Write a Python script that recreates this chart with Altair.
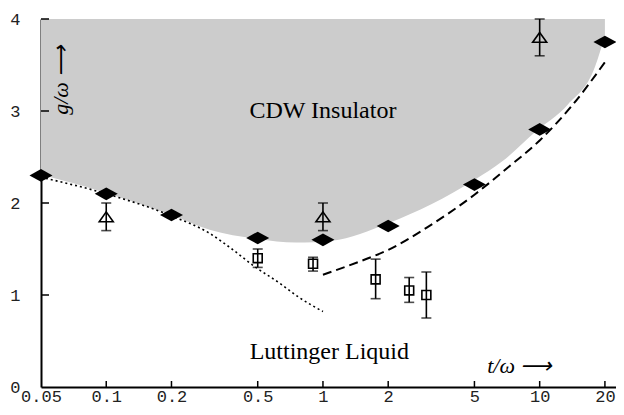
import altair as alt
import pandas as pd

# ---- data ----
x_ticks = [0.05, 0.1, 0.2, 0.5, 1, 2, 5, 10, 20]
y_ticks = [0, 1, 2, 3, 4]

# CDW phase boundary (grey region lower edge)
bound_t = [0.05, 0.1, 0.2, 0.3, 0.5, 0.75, 1.1, 2, 5, 6.7, 9.5, 13.5, 18, 20]
bound_g = [2.31, 2.11, 1.87, 1.71, 1.61, 1.57, 1.59, 1.78, 2.25, 2.45, 2.77, 3.07, 3.48, 3.82]

# diamonds
dia_t = [0.05, 0.1, 0.2, 0.5, 1, 2, 5, 10, 20]
dia_g = [2.30, 2.10, 1.87, 1.62, 1.60, 1.75, 2.20, 2.80, 3.75]

# triangles with error bars
tri_t = [0.1, 1, 10]
tri_g = [1.85, 1.85, 3.80]
tri_lo = [1.70, 1.70, 3.60]
tri_hi = [2.00, 2.00, 4.00]

# squares with error bars
sq_t = [0.5, 0.9, 1.75, 2.5, 3.0]
sq_g = [1.40, 1.34, 1.17, 1.05, 1.00]
sq_lo = [1.30, 1.26, 0.96, 0.92, 0.75]
sq_hi = [1.50, 1.41, 1.39, 1.19, 1.25]

# dotted (weak coupling) curve
dot_t = [0.05, 0.1, 0.2, 0.3, 0.38, 0.49, 0.63, 0.78, 1.0]
dot_g = [2.28, 2.10, 1.86, 1.67, 1.50, 1.30, 1.13, 0.97, 0.82]

# dashed (strong coupling) curve
dash_t = [1.0, 1.5, 2, 3, 5, 7, 10, 14, 20]
dash_g = [1.22, 1.37, 1.49, 1.73, 2.09, 2.37, 2.68, 3.05, 3.53]

labels = ["CDW Insulator", "Luttinger Liquid"]
label_t = [1.0, 1.07]
label_g = [3.0, 0.38]

# ---- chart ----
W, H = 575, 368
xs = alt.Scale(type="log", domain=[0.05, 22.5], nice=False)
ys = alt.Scale(domain=[0, 4], nice=False)

xaxis = alt.Axis(values=x_ticks, format="~g", title=None, labelFlush=False,
                 labelOverlap=False, labelPadding=1)
yaxis = alt.Axis(values=y_ticks, title=None, labelPadding=21)


def X(field):
    return alt.X(field, type="quantitative", scale=xs, axis=xaxis)


def Y(field):
    return alt.Y(field, type="quantitative", scale=ys, axis=yaxis)


area = alt.Chart(pd.DataFrame({"t": bound_t, "g": bound_g})).mark_area(
    color="#cccccc", interpolate="monotone"
).encode(x=X("t"), y=Y("g"), y2=alt.datum(4))

xtick_marks = alt.Chart(pd.DataFrame({"v": x_ticks[1:]})).mark_rule(
    color="black", strokeWidth=1.5
).encode(x=X("v"), y=alt.value(H), y2=alt.value(H - 6))

ytick_marks = alt.Chart(pd.DataFrame({"v": y_ticks[1:]})).mark_rule(
    color="black", strokeWidth=1.5
).encode(y=Y("v"), x=alt.value(0), x2=alt.value(8))

dotted = alt.Chart(pd.DataFrame({"t": dot_t, "g": dot_g})).mark_line(
    color="black", strokeWidth=1.6, strokeDash=[2, 3], interpolate="monotone"
).encode(x=X("t"), y=Y("g"))

dashed = alt.Chart(pd.DataFrame({"t": dash_t, "g": dash_g})).mark_line(
    color="black", strokeWidth=2, strokeDash=[9, 5], interpolate="monotone"
).encode(x=X("t"), y=Y("g"))

err_df = pd.DataFrame({
    "t": tri_t + sq_t,
    "g": tri_g + sq_g,
    "lo": tri_lo + sq_lo,
    "hi": tri_hi + sq_hi,
})

err_rule = alt.Chart(err_df).mark_rule(color="black", strokeWidth=1.6).encode(
    x=X("t"), y=Y("lo"), y2="hi:Q",
)
cap_lo = alt.Chart(err_df).mark_tick(
    color="black", thickness=1.6, size=10, orient="horizontal"
).encode(x=X("t"), y=Y("lo"))
cap_hi = alt.Chart(err_df).mark_tick(
    color="black", thickness=1.6, size=10, orient="horizontal"
).encode(x=X("t"), y=Y("hi"))

diamonds = alt.Chart(pd.DataFrame({"t": dia_t, "g": dia_g})).mark_point(
    shape="M-1,0L0,-0.55L1,0L0,0.55Z", size=529, filled=True, color="black", opacity=1
).encode(x=X("t"), y=Y("g"))

triangles = alt.Chart(pd.DataFrame({"t": tri_t, "g": tri_g})).mark_point(
    shape="M0,-0.7L1,0.7L-1,0.7Z", size=196, filled=False, color="black",
    strokeWidth=1.6, opacity=1
).encode(x=X("t"), y=Y("g"))

squares = alt.Chart(pd.DataFrame({"t": sq_t, "g": sq_g})).mark_point(
    shape="square", size=80, filled=False, color="black", strokeWidth=1.6, opacity=1
).encode(x=X("t"), y=Y("g"))

region_text = alt.Chart(pd.DataFrame({"t": label_t, "g": label_g, "s": labels})).mark_text(
    font="Liberation Serif", fontSize=24, color="black"
).encode(x=X("t"), y=Y("g"), text="s:N")

xtitle = alt.Chart(pd.DataFrame({"t": [8.1], "g": [0.23], "s": ["t/ω ⟶"]})).mark_text(
    font="Liberation Serif", fontSize=22, fontStyle="italic", color="black"
).encode(x=X("t"), y=Y("g"), text="s:N")

ytitle = alt.Chart(pd.DataFrame({"t": [0.062], "g": [3.34], "s": ["g/ω ⟶"]})).mark_text(
    font="Liberation Serif", fontSize=22, fontStyle="italic", color="black", angle=270
).encode(x=X("t"), y=Y("g"), text="s:N")

chart = alt.layer(
    area, xtick_marks, ytick_marks, dotted, dashed, err_rule, cap_lo, cap_hi,
    diamonds, triangles, squares, region_text, xtitle, ytitle
).properties(
    width=W, height=H,
    autosize=alt.AutoSizeParams(type="none"),
    padding={"left": 33, "top": 11, "right": 0, "bottom": 20},
    background="white",
).configure_view(
    stroke=None
).configure_axis(
    grid=False, ticks=False, tickSize=0, domainColor="black", domainWidth=2,
    labelFont="Liberation Mono", labelFontSize=17, labelColor="#222222",
)

chart.save("out.html", embed_options={"renderer": "svg", "actions": False})
